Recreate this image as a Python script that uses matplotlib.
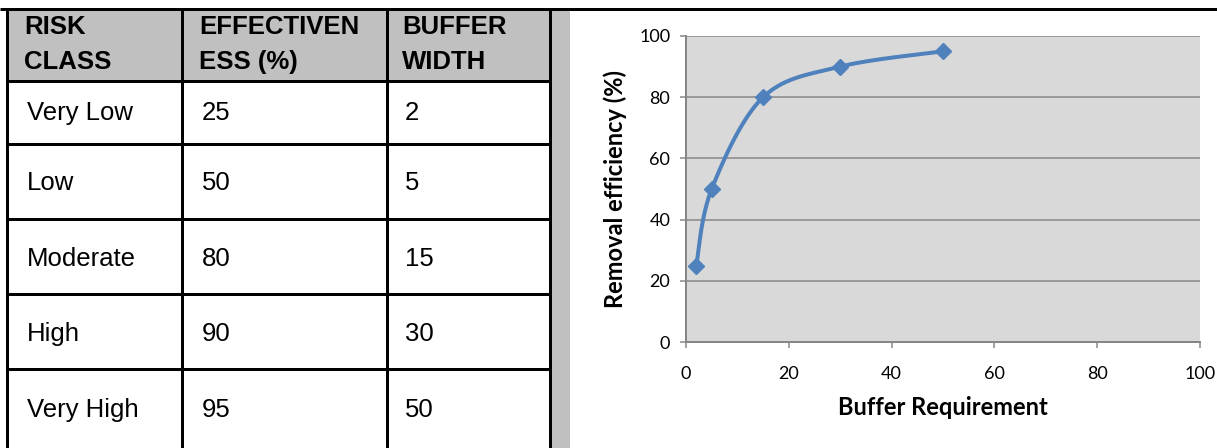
import numpy as np
import matplotlib
matplotlib.use("Agg")
import matplotlib.pyplot as plt
from matplotlib.patches import Rectangle

# Table contents
header = ["RISK\nCLASS", "EFFECTIVEN\nESS (%)", "BUFFER\nWIDTH"]
risk_class = ["Very Low", "Low", "Moderate", "High", "Very High"]
effectiveness = [25, 50, 80, 90, 95]
buffer_width = [2, 5, 15, 30, 50]

# Chart axes
x_ticks = [0, 20, 40, 60, 80, 100]
y_ticks = [0, 20, 40, 60, 80, 100]
x_label = "Buffer Requirement"
y_label = "Removal efficiency (%)"

W, H = 1217, 448
GREY = "#c0c0c0"
BLUE = "#4f81bd"
AXIS_GREY = "#868686"
px = 72 / 100  # pixel -> point at dpi 100


def smooth_curve(xs, ys, n=40):
    # Bezier spline through the points, like a spreadsheet "smoothed line"
    p = np.column_stack([xs, ys]).astype(float)
    ext = np.vstack([p[0], p, p[-1]])
    out = [p[:1]]
    t = np.linspace(0, 1, n)[1:, None]
    for i in range(len(p) - 1):
        p0, p3 = ext[i + 1], ext[i + 2]
        c1 = p0 + (ext[i + 2] - ext[i]) / 6
        c2 = p3 - (ext[i + 3] - ext[i + 1]) / 6
        seg = ((1 - t) ** 3) * p0 + 3 * ((1 - t) ** 2) * t * c1 \
            + 3 * (1 - t) * t ** 2 * c2 + t ** 3 * p3
        out.append(seg)
    c = np.vstack(out)
    return c[:, 0], c[:, 1]


fig = plt.figure(figsize=(W / 100, H / 100), dpi=100)

# full-figure layer in pixel coordinates for the table
bg = fig.add_axes([0, 0, 1, 1])
bg.set_xlim(0, W)
bg.set_ylim(H, 0)
bg.axis("off")

col_x = [7, 182, 387, 550]
row_y = [10, 81, 144, 219, 294, 369, 452]

bg.add_patch(Rectangle((col_x[0], row_y[0]), col_x[3] - col_x[0], row_y[1] - row_y[0],
                       facecolor=GREY, edgecolor="none"))
bg.add_patch(Rectangle((552, 10), 18, H - 10, facecolor=GREY, edgecolor="none"))

lw = 3 * px
bg.plot([0, W], [9.5, 9.5], color="black", lw=lw, solid_capstyle="butt")
for x in col_x:
    bg.plot([x, x], [9.5, H], color="black", lw=lw, solid_capstyle="butt")
for y in row_y[1:-1]:
    bg.plot([col_x[0], col_x[3]], [y, y], color="black", lw=lw, solid_capstyle="butt")

tfont = dict(family="Liberation Sans", fontsize=18.5, color="black")
pad = [17, 17, 15]
for j, h in enumerate(header):
    first, second = h.split("\n")
    bg.text(col_x[j] + pad[j], 34.5, first, fontweight="bold", va="baseline", **tfont)
    bg.text(col_x[j] + pad[j], 69, second, fontweight="bold", va="baseline", **tfont)

baselines = [120, 190, 266, 341, 417]
for i in range(len(risk_class)):
    cells = [risk_class[i], str(effectiveness[i]), str(buffer_width[i])]
    for j, s in enumerate(cells):
        bg.text(col_x[j] + pad[j] + 3, baselines[i], s, va="baseline", **tfont)

# chart
left, right, top, bottom = 686, 1200, 36, 342
ax = fig.add_axes([left / W, (H - bottom) / H, (right - left) / W, (bottom - top) / H])
ax.set_facecolor("#d9d9d9")
ax.set_xlim(0, 100)
ax.set_ylim(0, 100)
ax.set_xticks(x_ticks)
ax.set_yticks(y_ticks)
ax.grid(axis="y", color=AXIS_GREY, lw=1.5 * px)
ax.set_axisbelow(True)
for s in ["top", "right"]:
    ax.spines[s].set_visible(False)
for s in ["left", "bottom"]:
    ax.spines[s].set_color(AXIS_GREY)
    ax.spines[s].set_linewidth(2 * px)
ax.tick_params(length=6 * px, width=1.5 * px, color=AXIS_GREY, labelsize=13,
               labelcolor="black", pad=7)
ax.tick_params(axis="x", pad=13)
for lab in ax.get_xticklabels() + ax.get_yticklabels():
    lab.set_family("Lato")

sx, sy = smooth_curve(buffer_width, effectiveness)
ax.plot(sx, sy, color=BLUE, lw=4 * px, solid_capstyle="round", clip_on=False)
ax.plot(buffer_width, effectiveness, linestyle="none", marker="D", markersize=12 * px,
        color=BLUE, clip_on=False)

ax.set_xlabel(x_label, family="Lato", fontweight="bold", fontsize=17, labelpad=10)
ax.set_ylabel(y_label, family="Lato", fontweight="bold", fontsize=17, labelpad=9)

fig.savefig("out.png", dpi=100)
